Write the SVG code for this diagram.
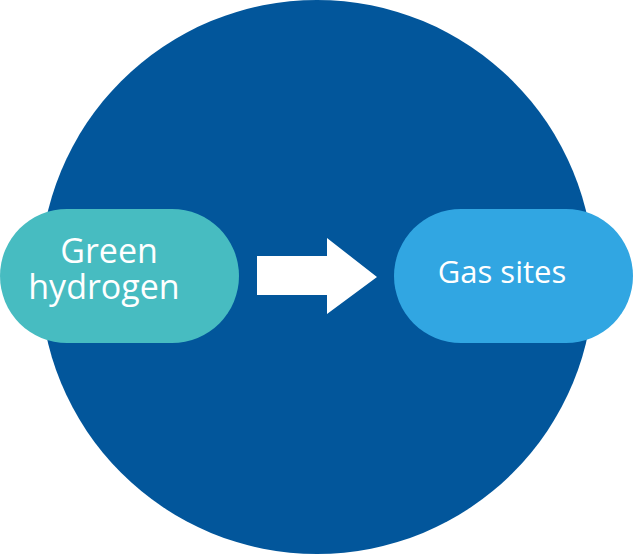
<svg xmlns="http://www.w3.org/2000/svg" width="634" height="554" viewBox="0 0 634 554">
<style>
.lbl{font-family:"Open Sans","Noto Sans",sans-serif;fill:#ffffff;text-anchor:middle}
</style>
<rect width="634" height="554" fill="#ffffff"/>
<g id="circle"><circle cx="317" cy="277" r="277" fill="#02569B"/></g>
<g id="green-hydrogen">
<rect x="0" y="209" width="239" height="134" rx="67" ry="67" fill="#47BCC1"/>
<text class="lbl" font-size="34"><tspan x="109" y="263">Green</tspan><tspan x="104" y="299">hydrogen</tspan></text>
</g>
<g id="gas-sites">
<rect x="394" y="209" width="239" height="134" rx="67" ry="67" fill="#31A6E2"/>
<text class="lbl" x="502" y="283" font-size="31">Gas sites</text>
</g>
<g id="connectors">
<polygon points="257,256 327,256 327,238 377,277 327,314 327,295 257,295" fill="#ffffff"/>
</g>
</svg>
